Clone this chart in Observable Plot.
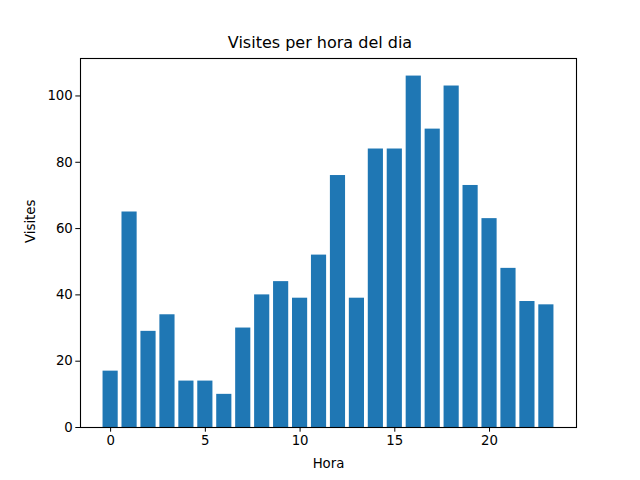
<!DOCTYPE html>
<html>
<head>
<meta charset="utf-8">
<script src="https://cdn.jsdelivr.net/npm/d3@7"></script>
<script src="https://cdn.jsdelivr.net/npm/@observablehq/plot@0.6"></script>
<style>
  html, body { margin: 0; padding: 0; background: #fff; }
  #wrap { width: 640px; height: 480px; font-family: "DejaVu Sans", sans-serif; }
  #title { height: 20px; padding-top: 33px; line-height: 20px; text-align: center; font-size: 16px; color: #000; }
  svg { display: block; }
</style>
</head>
<body>
<div id="wrap">
  <div id="title">Visites per hora del dia</div>
  <div id="chart"></div>
</div>
<script>
const hores = [0,1,2,3,4,5,6,7,8,9,10,11,12,13,14,15,16,17,18,19,20,21,22,23];
const visites = [17,65,29,34,14,14,10,30,40,44,39,52,76,39,84,84,106,90,103,73,63,48,38,37];
const xTicks = [0,5,10,15,20];
const yTicks = [0,20,40,60,80,100];

const data = hores.map((h, i) => ({hora: h, visites: visites[i]}));

const chart = Plot.plot({
  width: 640,
  height: 427,
  marginTop: 5,
  marginBottom: 53,
  marginLeft: 80,
  marginRight: 64,
  style: {fontFamily: "DejaVu Sans, sans-serif", fontSize: "13.3px", color: "#000", background: "#fff"},
  x: {domain: [-1.59, 24.59], ticks: xTicks, tickSize: 4.7, tickPadding: 3, label: null},
  y: {domain: [0, 111.3], ticks: yTicks, tickSize: 4.7, tickPadding: 3, label: null},
  marks: [
    Plot.rectY(data, {x1: d => d.hora - 0.4, x2: d => d.hora + 0.4, y1: 0, y2: "visites", fill: "#1f77b4"}),
    Plot.axisX({ticks: xTicks, tickSize: 4.7, tickPadding: 3, label: null, fontSize: 13.3}),
    Plot.axisY({ticks: yTicks, tickSize: 4.7, tickPadding: 3, label: null, fontSize: 13.3}),
    Plot.frame({stroke: "#000", strokeWidth: 1.1}),
    Plot.text(["Hora"], {frameAnchor: "bottom", dy: 40, fontSize: 13.3, fill: "#000"}),
    Plot.text(["Visites"], {frameAnchor: "left", dx: -50, rotate: -90, fontSize: 13.3, fill: "#000"})
  ]
});
document.getElementById("chart").appendChild(chart);
</script>
</body>
</html>
